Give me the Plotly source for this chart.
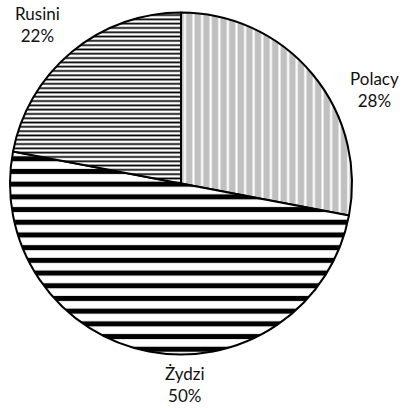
import plotly.graph_objects as go

labels = ["Polacy", "Żydzi", "Rusini"]
values = [28, 50, 22]
pct_text = ["28%", "50%", "22%"]

bg_colors = ["#c0c0c0", "#ffffff", "#ffffff"]
shapes = ["|", "-", "-"]
fg_colors = ["#ffffff", "#000000", "#000000"]
pat_sizes = [8.6, 12.7, 4.3]
solidity = [0.25, 0.4, 0.4]

W = H = 408
fig = go.Figure(go.Pie(
    labels=labels, values=values, sort=False, direction="clockwise", rotation=0,
    textinfo="none", hoverinfo="label+percent",
    marker=dict(colors=bg_colors, line=dict(color="#000000", width=2),
                pattern=dict(shape=shapes, fgcolor=fg_colors, bgcolor=bg_colors,
                             size=pat_sizes, solidity=solidity, fillmode="replace")),
    domain=dict(x=[10/W, 352/W], y=[1-355/H, 1-12/H]),
    showlegend=False,
))

label_pos = [(374, 89), (185, 384), (37, 24)]
for lab, pt, (px, py) in zip(labels, pct_text, label_pos):
    fig.add_annotation(x=px/W, y=1-py/H, xref="paper", yref="paper",
                       text=f"{lab}<br>{pt}", showarrow=False, borderpad=0,
                       xanchor="center", yanchor="middle", align="center",
                       font=dict(family="Lato, Open Sans, sans-serif", size=17, color="#111111"))

fig.update_layout(width=W, height=H, margin=dict(l=0, r=0, t=0, b=0),
                  paper_bgcolor="white", plot_bgcolor="white")
fig.write_html("out.html")
